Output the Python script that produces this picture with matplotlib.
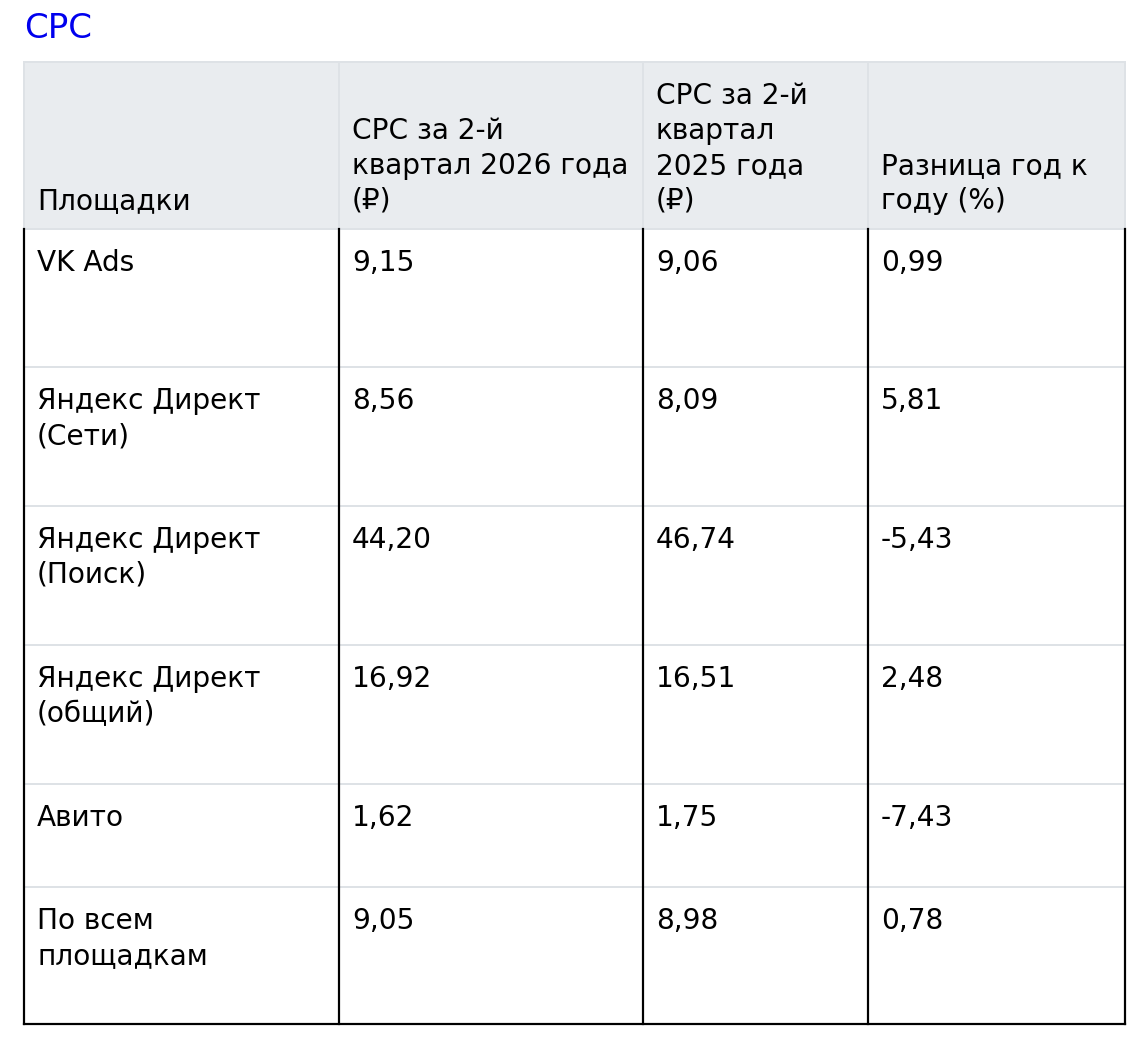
import matplotlib
matplotlib.use("Agg")
import matplotlib.pyplot as plt
from matplotlib.patches import Rectangle

# table content
title = "CPC"
headers = ["Площадки",
           "CPC за 2-й\nквартал 2026 года\n(₽)",
           "CPC за 2-й\nквартал\n2025 года\n(₽)",
           "Разница год к\nгоду (%)"]
platforms = ["VK Ads", "Яндекс Директ\n(Сети)", "Яндекс Директ\n(Поиск)",
             "Яндекс Директ\n(общий)", "Авито", "По всем\nплощадкам"]
cpc_2026 = [9.15, 8.56, 44.20, 16.92, 1.62, 9.05]
cpc_2025 = [9.06, 8.09, 46.74, 16.51, 1.75, 8.98]
diff_pct = [0.99, 5.81, -5.43, 2.48, -7.43, 0.78]

W, H = 1144, 1046
DPI = 100
PX = 72 / DPI  # pt per pixel

col_x = [24, 339, 643, 868, 1125]
head_top, head_bot = 62, 229
row_y = [229, 367, 506, 645, 784, 887, 1024]
pad = 13
line_h = 35
fs = 28 * PX

head_bg = "#e9ecef"
light = "#dee2e6"


def fmt(v):
    return f"{v:.2f}".replace(".", ",")


fig = plt.figure(figsize=(W / DPI, H / DPI), dpi=DPI)
ax = fig.add_axes([0, 0, 1, 1])
ax.set_xlim(0, W)
ax.set_ylim(H, 0)
ax.axis("off")

ax.text(24, 28, title, color="#0000ee", fontsize=34 * PX,
        va="center", ha="left")

# header
ax.add_patch(Rectangle((col_x[0], head_top), col_x[-1] - col_x[0],
                       head_bot - head_top, facecolor=head_bg,
                       edgecolor=light, lw=2 * PX))
for x in col_x[1:-1]:
    ax.plot([x, x], [head_top, head_bot], color=light, lw=2 * PX)

for j, h in enumerate(headers):
    lines = h.split("\n")
    for k, ln in enumerate(reversed(lines)):
        ax.text(col_x[j] + pad, 201 - k * line_h, ln, fontsize=fs,
                va="center", ha="left", color="black")

# body grid
for y in row_y[1:-1]:
    ax.plot([col_x[0], col_x[-1]], [y, y], color=light, lw=2 * PX,
            zorder=1)
for x in col_x:
    ax.plot([x, x], [row_y[0], row_y[-1]], color="black", lw=2.2 * PX,
            zorder=2)
ax.plot([col_x[0], col_x[-1]], [row_y[-1], row_y[-1]], color="black",
        lw=2.2 * PX, zorder=2, solid_capstyle="projecting")

rows = list(zip(platforms, map(fmt, cpc_2026), map(fmt, cpc_2025),
                map(fmt, diff_pct)))
for i, row in enumerate(rows):
    top = row_y[i]
    for j, cell in enumerate(row):
        for k, ln in enumerate(cell.split("\n")):
            ax.text(col_x[j] + pad, top + 34 + k * line_h, ln,
                    fontsize=fs, va="center", ha="left", color="black")

fig.savefig("out.png", dpi=DPI, facecolor="white")
